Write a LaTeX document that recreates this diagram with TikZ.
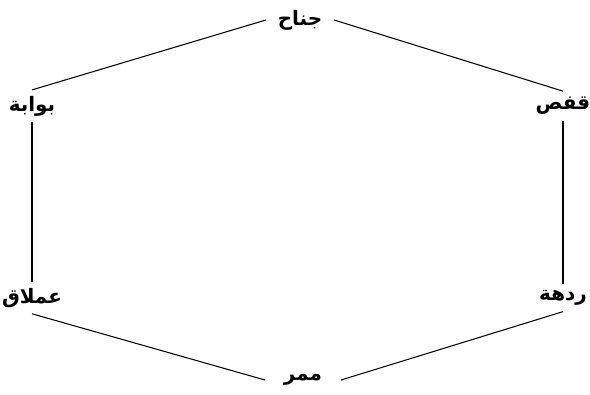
\documentclass[tikz,border=0pt]{standalone}
\usepackage{fontspec}
\newfontfamily\arabicfont[Script=Arabic]{DejaVu Sans}
\TeXXeTstate=1
\usetikzlibrary{positioning}

\begin{document}
\begin{tikzpicture}[
  x=0.03cm, y=-0.03cm,
  word/.style={font=\arabicfont\bfseries\fontsize{17}{20}\selectfont, inner xsep=10pt, inner ysep=5pt},
  link/.style={line width=0.9pt}
]
\useasboundingbox (0,0) rectangle (590,395);
\node[word] (janah)  at (300,20)  {\beginR جناح\endR};
\node[word] (bawaba) at (32,106)  {\beginR بوابة\endR};
\node[word] (qafas)  at (563,106) {\beginR قفص\endR};
\node[word] (imlaq)  at (32,298)  {\beginR عملاق\endR};
\node[word] (radha)  at (563,298) {\beginR ردهة\endR};
\node[word, inner xsep=16pt] (mamar) at (303,380) {\beginR ممر\endR};
\draw[link] (janah.west) -- (bawaba.north);
\draw[link] (janah.east) -- (qafas.north);
\draw[link] (bawaba) -- (imlaq);
\draw[link] (qafas) -- (radha);
\draw[link] (imlaq.south) -- (mamar.west);
\draw[link] (radha.south) -- (mamar.east);
\end{tikzpicture}
\end{document}
